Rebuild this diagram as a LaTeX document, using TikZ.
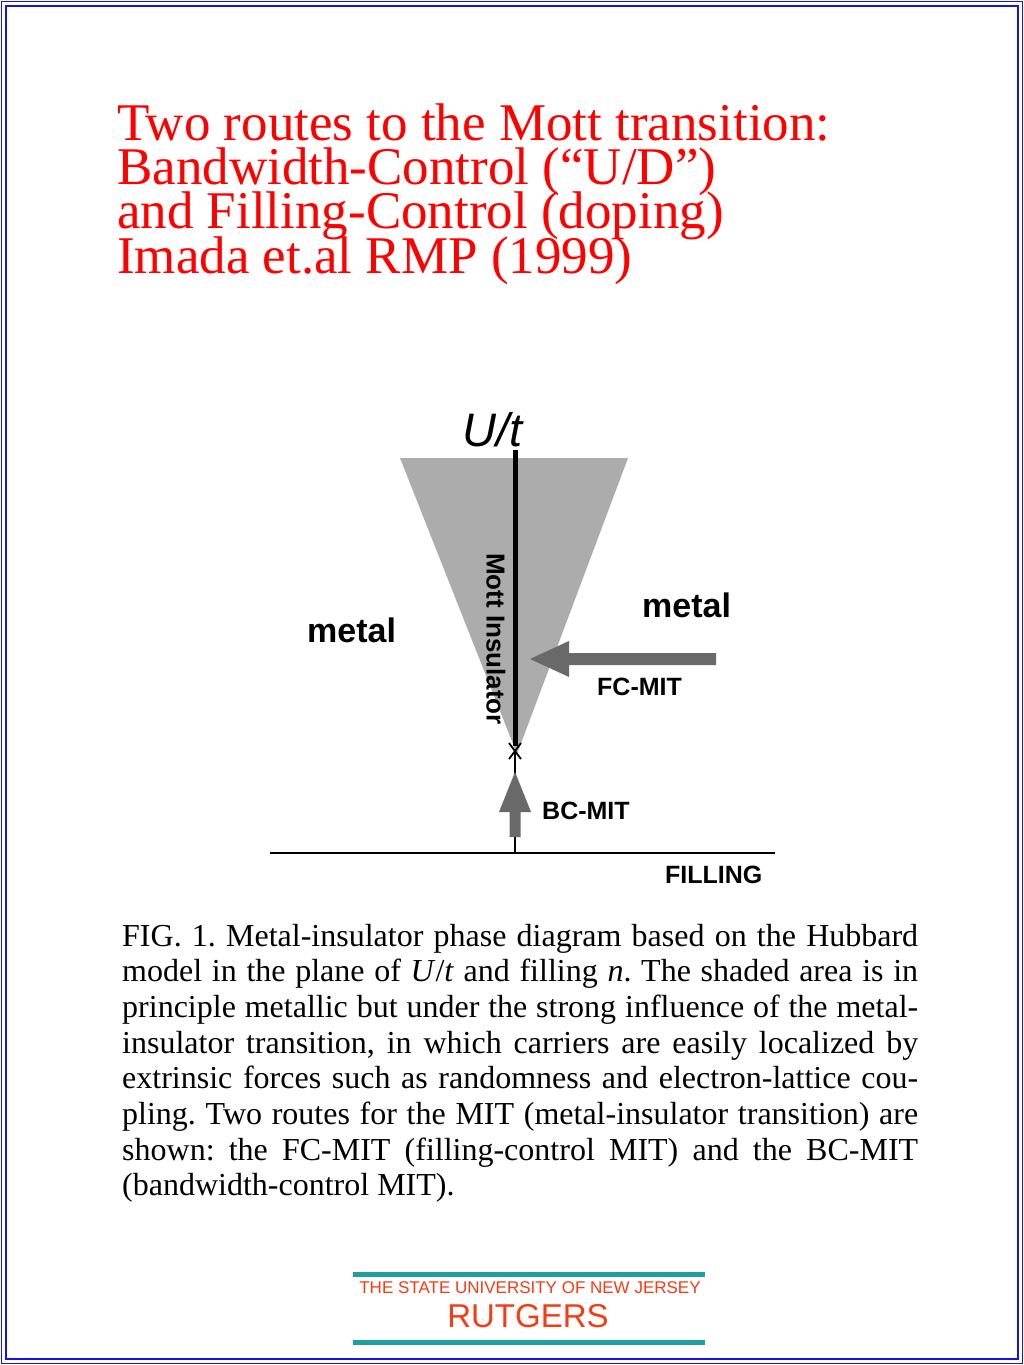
\documentclass[tikz,border=0pt]{standalone}
\usepackage{fontspec}
\setmainfont{Liberation Serif}
\setsansfont{Liberation Sans}
\newfontfamily\capfont{Liberation Serif}
\newfontfamily\titlefont{Liberation Serif}
\newfontfamily\lblfont{Liberation Sans}
\definecolor{borderblue}{RGB}{20,20,230}
\definecolor{shadegray}{RGB}{172,172,172}
\definecolor{arrowgray}{RGB}{105,105,105}
\definecolor{rutorange}{RGB}{245,60,20}
\definecolor{rutteal}{RGB}{30,160,160}
\newcommand{\titlesetup}{\titlefont\fontsize{53}{44.3}\selectfont\lineskiplimit=-100pt\relax\lineskip=0pt\relax}
\tikzset{
  titletext/.style={anchor=base west, inner sep=0pt, text=red, align=left, font=\titlesetup},
  captext/.style={anchor=base west, inner sep=0pt, font=\capfont\fontsize{32}{35.7}\selectfont\frenchspacing},
  lbl/.style={inner sep=0pt, font=\lblfont\bfseries\fontsize{25}{28}\selectfont},
  biglbl/.style={inner sep=0pt, font=\lblfont\bfseries\fontsize{34}{38}\selectfont},
  fatarrow/.style={fill=arrowgray, draw=none},
  axisline/.style={line width=1.5pt, black},
}
\newcommand{\capline}[1]{\makebox[796pt][s]{#1}}
\begin{document}
\begin{tikzpicture}[x=1pt,y=-1pt]
\useasboundingbox (0,0) rectangle (1024,1365);
\fill[white] (0,0) rectangle (1024,1365);
% border
\draw[borderblue, line width=1.5pt] (1.5,1.5) rectangle (1022.5,1363.5);
\draw[borderblue, line width=2.5pt] (6,6) rectangle (1018,1359);

% title
\node[titletext] (title) at (117,273) {Two routes to the Mott transition:\\Bandwidth-Control (“U/D”)\\and Filling-Control (doping)\\Imada et.al RMP (1999)};

% diagram
\fill[shadegray] (400,458) -- (628,458) -- (517,754) -- cycle;
\coordinate (utop) at (515,450);
\coordinate (ubot) at (515,746);
\coordinate (xmark) at (515,751);
\coordinate (origin) at (515,853);
\coordinate (fleft) at (270,853);
\coordinate (fright) at (775,853);
\draw[axisline] (xmark) -- (origin);
\draw[line width=5pt] (utop) -- (ubot);
\draw[line width=1.8pt] ([shift={(-6,-8)}]xmark) -- ([shift={(6,8)}]xmark)
      ([shift={(6,-8)}]xmark) -- ([shift={(-6,8)}]xmark);
\draw[axisline] (fleft) -- (fright);

% BC-MIT arrow
\fill[fatarrow] (515,772) -- (531,812) -- (520.5,812) -- (520.5,837) -- (509.5,837) -- (509.5,812) -- (499,812) -- cycle;
% FC-MIT arrow
\fill[fatarrow] (530,659) -- (569,641) -- (569,653) -- (716,653) -- (716,665) -- (569,665) -- (569,677) -- cycle;

\node[anchor=base, inner sep=0pt, font=\lblfont\itshape\fontsize{47}{50}\selectfont] (ut) at (493,446) {U/t};
\node[biglbl, anchor=base west] (metalL) at (307,642) {metal};
\node[biglbl, anchor=base west] (metalR) at (642,617) {metal};
\node[lbl, anchor=base west] (fc) at (597,695) {FC-MIT};
\node[lbl, anchor=base west] (bc) at (542,819) {BC-MIT};
\node[lbl, anchor=base west] (fill) at (665,883) {FILLING};
\node[inner sep=0pt, rotate=-90, font=\lblfont\bfseries\fontsize{26}{28}\selectfont] (mott) at (496,639) {Mott Insulator};

% caption
\node[captext] (c1) at (122,946) {\capline{FIG. 1. Metal-insulator phase diagram based on the Hubbard}};
\node[captext] (c2) at (122,981.7) {\capline{model in the plane of \textit{U}/\textit{t} and filling \textit{n}. The shaded area is in}};
\node[captext] (c3) at (122,1017.4) {\capline{principle metallic but under the strong influence of the metal-}};
\node[captext] (c4) at (122,1053.1) {\capline{insulator transition, in which carriers are easily localized by}};
\node[captext] (c5) at (122,1088.8) {\capline{extrinsic forces such as randomness and electron-lattice cou-}};
\node[captext] (c6) at (122,1124.5) {\capline{pling. Two routes for the MIT (metal-insulator transition) are}};
\node[captext] (c7) at (122,1160.2) {\capline{shown: the FC-MIT (filling-control MIT) and the BC-MIT}};
\node[captext] (c8) at (122,1195.9) {(bandwidth-control MIT).};

% Rutgers logo
\fill[rutteal] (353,1272) rectangle (705,1277);
\fill[rutteal] (353,1340) rectangle (705,1345);
\node[anchor=base, inner sep=0pt, text=rutorange, font=\lblfont\fontsize{17}{20}\selectfont] (univ) at (530,1293) {THE STATE UNIVERSITY OF NEW JERSEY};
\node[anchor=base, inner sep=0pt, text=rutorange, font=\lblfont\fontsize{33}{36}\selectfont] (rut) at (528,1327) {RUTGERS};
\end{tikzpicture}
\end{document}
